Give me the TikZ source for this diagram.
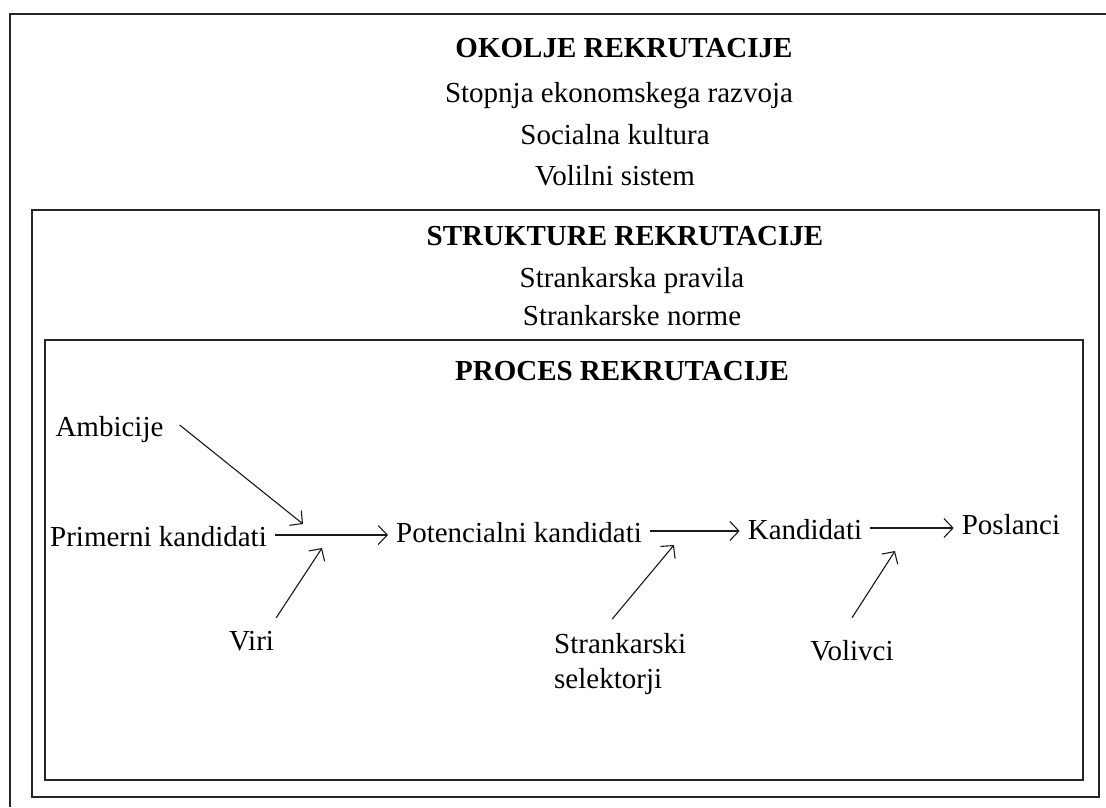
\documentclass[tikz,border=0pt]{standalone}
\usepackage{fontspec}
\setmainfont{Liberation Serif}
\usetikzlibrary{arrows.meta}
\begin{document}
\begin{tikzpicture}[x=1pt,y=-1pt,
  frame/.style={draw=black!85,line width=1.6pt},
  lbl/.style={inner xsep=8pt,inner ysep=0pt,font=\fontsize{29}{35}\selectfont,anchor=base},
  ttl/.style={lbl,font=\fontsize{29}{35}\selectfont\bfseries},
  item/.style={lbl,text height=22pt,text depth=0pt},
  arr/.style={draw=black!90,line width=1.1pt,-{Straight Barb[length=9pt,width=19pt,line width=1.1pt]}}
]
\useasboundingbox (0,0) rectangle (1106,807);
% frames
\draw[frame] (10,807) -- (10,14) -- (1106,14);
\draw[frame] (32,210) rectangle (1099,797);
\draw[frame] (45,340) rectangle (1083,780);
% environment
\node[ttl] (okolje) at (624,57) {OKOLJE REKRUTACIJE};
\node[lbl] (stop) at (619,102) {Stopnja ekonomskega razvoja};
\node[lbl] (soc) at (615,144) {Socialna kultura};
\node[lbl] (volsis) at (615,185) {Volilni sistem};
% structures
\node[ttl] (strukt) at (625,245) {STRUKTURE REKRUTACIJE};
\node[lbl] (prav) at (632,287) {Strankarska pravila};
\node[lbl] (norme) at (632,325) {Strankarske norme};
% process
\node[ttl] (proces) at (622,380) {PROCES REKRUTACIJE};
\node[item] (amb) at (109.5,436) {Ambicije};
\node[item] (prim) at (158.5,546) {Primerni kandidati};
\node[item] (pot) at (519,542) {Potencialni kandidati};
\node[item] (kand) at (805,539) {Kandidati};
\node[item] (posl) at (1011,534) {Poslanci};
\node[item] (viri) at (251.5,650) {Viri};
\node[lbl,align=left,anchor=north west] (sel) at (546,633) {Strankarski\\selektorji};
\node[item] (volv) at (852,660) {Volivci};
% main flow
\draw[arr] (prim.east) -- (prim.east -| pot.west);
\draw[arr] (pot.east) -- (pot.east -| kand.west);
\draw[arr] (kand.east) -- (kand.east -| posl.west);
% influences
\coordinate (ambtip) at (303,524);
\coordinate (viritip) at (322,548);
\coordinate (seltip) at (674,545);
\coordinate (voltip) at (895,551);
\draw[arr] ([xshift=8pt]amb.east) -- (ambtip);
\draw[arr] ([xshift=-6pt,yshift=10pt]viri.north east) -- (viritip);
\draw[arr] ([xshift=-8pt,yshift=14pt]sel.north) -- (seltip);
\draw[arr] ([yshift=20pt]volv.north) -- (voltip);
\end{tikzpicture}
\end{document}
